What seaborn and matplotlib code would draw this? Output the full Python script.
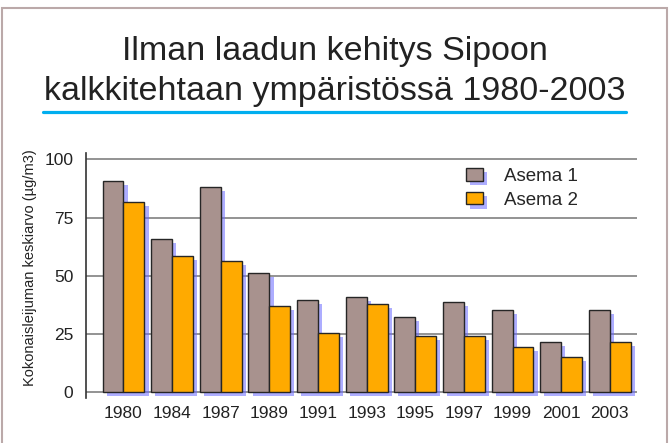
import matplotlib
matplotlib.use("Agg")
import matplotlib.pyplot as plt
import matplotlib.patheffects as pe
from matplotlib.patches import Rectangle
from matplotlib.lines import Line2D
import seaborn as sns
import pandas as pd

# values
years = ['1980', '1984', '1987', '1989', '1991', '1993', '1995', '1997', '1999', '2001', '2003']
asema1 = [90.6, 65.9, 88.1, 51.3, 39.7, 40.9, 32.4, 38.6, 35.5, 21.5, 35.5]
asema2 = [81.7, 58.4, 56.2, 37.0, 25.3, 38.0, 24.0, 24.0, 19.4, 15.0, 21.5]
series = ['Asema 1', 'Asema 2']
yticks = [0, 25, 50, 75, 100]

df = pd.DataFrame({
    'vuosi': years * 2,
    'arvo': asema1 + asema2,
    'asema': [series[0]] * len(years) + [series[1]] * len(years),
})

sns.set_style('white')
plt.rcParams['font.family'] = ['Liberation Sans', 'DejaVu Sans']

fig = plt.figure(figsize=(6.7, 4.43), dpi=100)
ax = fig.add_axes([86 / 670, 45 / 443, 551 / 670, 245 / 443])

sns.barplot(data=df, x='vuosi', y='arvo', hue='asema', order=years, hue_order=series,
            palette=['#a8928e', '#ffaa00'], width=0.86, edgecolor='#262626',
            linewidth=1.0, saturation=1, ax=ax, zorder=3)

# blue drop shadow like the original
for p in ax.patches:
    p.set_path_effects([pe.SimplePatchShadow(offset=(3, -3), shadow_rgbFace=(0.42, 0.42, 1.0), alpha=0.55),
                        pe.Normal()])

for y in yticks:
    ax.axhline(y, color='#808080', lw=1.2, zorder=1)

ax.set_ylim(-2.5, 102.7)
ax.set_xlim(-0.77, 10.56)
ax.set_yticks(yticks)
ax.set_xlabel('')
ax.set_ylabel('')
for s in ['top', 'right', 'bottom']:
    ax.spines[s].set_visible(False)
ax.spines['left'].set_color('#333333')
ax.spines['left'].set_linewidth(1.2)
ax.tick_params(axis='y', length=3, width=1, color='#555555', pad=6, labelsize=12.5, labelcolor='#222222')
ax.tick_params(axis='x', length=0, pad=6, labelsize=12.5, labelcolor='#222222')

h, l = ax.get_legend_handles_labels()
ax.legend(h, l, loc='upper left', bbox_to_anchor=(466 / 670, 1 - 168 / 443),
          bbox_transform=fig.transFigure, frameon=False, fontsize=13.5,
          handlelength=0.9, handleheight=0.65, handletextpad=1.1, labelspacing=0.36,
          borderpad=0, borderaxespad=0)

# title, underline and y label
fig.text(0.5, 1 - 60 / 443, 'Ilman laadun kehitys Sipoon', ha='center', va='baseline',
         fontsize=24.5, color='#222222')
fig.text(0.5, 1 - 100 / 443, 'kalkkitehtaan ympäristössä 1980-2003', ha='center', va='baseline',
         fontsize=24.5, color='#222222')
fig.add_artist(Line2D([43 / 670, 626 / 670], [1 - 112 / 443, 1 - 112 / 443],
                      transform=fig.transFigure, color='#00aeef', lw=2.3))
fig.text(30 / 670, 1 - 268 / 443, 'Kokonaisleijuman keskiarvo (µg/m3)', rotation=90,
         ha='center', va='center', fontsize=10.5, color='#222222')

# outer frame
fig.add_artist(Rectangle((2 / 670, -0.05), 665 / 670, 1.05 - 8 / 443, transform=fig.transFigure,
                         fill=False, edgecolor='#bba9a9', lw=1.5))

fig.savefig('out.png', dpi=100)
